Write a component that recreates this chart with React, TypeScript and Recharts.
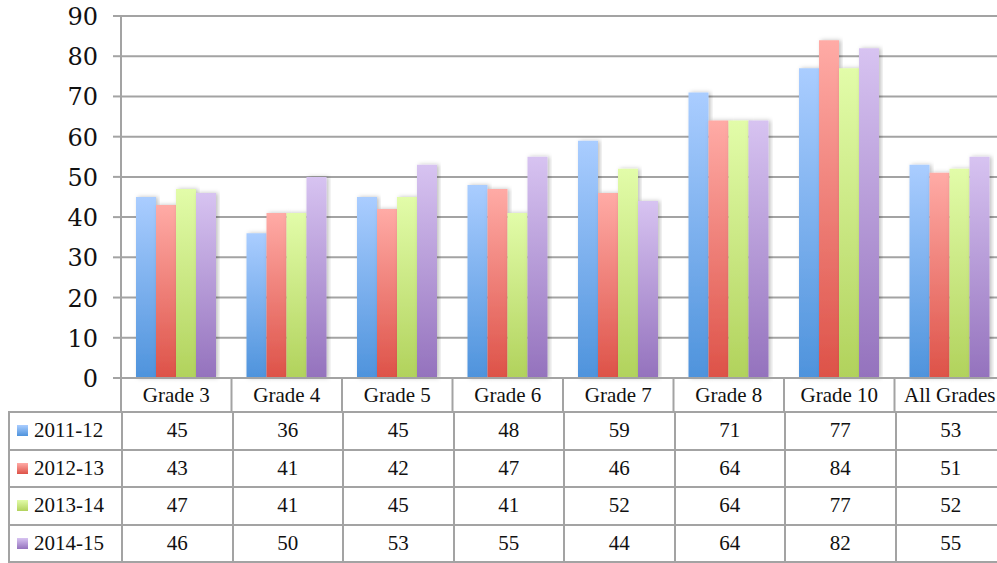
import React from "react";
import { BarChart, Bar, XAxis, YAxis, CartesianGrid } from "recharts";

const categories = ["Grade 3", "Grade 4", "Grade 5", "Grade 6", "Grade 7", "Grade 8", "Grade 10", "All Grades"];
const series2011 = [45, 36, 45, 48, 59, 71, 77, 53];
const series2012 = [43, 41, 42, 47, 46, 64, 84, 51];
const series2013 = [47, 41, 45, 41, 52, 64, 77, 52];
const series2014 = [46, 50, 53, 55, 44, 64, 82, 55];
const yTicks = [0, 10, 20, 30, 40, 50, 60, 70, 80, 90];

const seriesList = [
  { key: "s2011", name: "2011-12", values: series2011, top: "#aacdff", bottom: "#4e93dc" },
  { key: "s2012", name: "2012-13", values: series2012, top: "#ffaba6", bottom: "#dd5248" },
  { key: "s2013", name: "2013-14", values: series2013, top: "#e2fca9", bottom: "#b1d25c" },
  { key: "s2014", name: "2014-15", values: series2014, top: "#d7c3f1", bottom: "#9472bd" },
];

const data = categories.map((c, i) => {
  const row: any = { name: c };
  seriesList.forEach((s) => (row[s.key] = s.values[i]));
  return row;
});

const FONT = "'Liberation Serif', 'DejaVu Serif', serif";
const AXIS_FONT = "'DejaVu Serif', serif";
const GRID = "#a3a3a3";
const CHART_W = 997;
const Y_AXIS_W = 113;
const BAND = (CHART_W - Y_AXIS_W) / categories.length;
const HEADER_H = 34;
const TOP = 16;
const PLOT_H = 362;

const CategoryTick = (props: any) => {
  const { x, y, payload } = props;
  return (
    <g>
      <line x1={x - BAND / 2} x2={x - BAND / 2} y1={y} y2={y + HEADER_H} stroke={GRID} strokeWidth={2} />
      <text x={x} y={y + 24} textAnchor="middle" style={{ fontFamily: FONT, fontSize: 21 }} fill="#111">
        {payload.value}
      </text>
    </g>
  );
};

const ValueTick = (props: any) => {
  const { x, y, payload } = props;
  return (
    <text x={x + 1} y={y} dy={9} textAnchor="end" style={{ fontFamily: AXIS_FONT, fontSize: 24 }} fill="#111">
      {payload.value}
    </text>
  );
};

export default function App() {
  return (
    <div style={{ position: "absolute", top: 0, left: 8, width: 989, height: 563, overflow: "hidden", background: "#fff", fontFamily: FONT }}>
      <BarChart
        width={CHART_W}
        height={TOP + PLOT_H + HEADER_H}
        data={data}
        margin={{ top: TOP, right: 0, bottom: 0, left: 0 }}
        barCategoryGap={15}
        barGap={0}
      >
        <defs>
          {seriesList.map((s) => (
            <linearGradient key={s.key} id={`grad-${s.key}`} x1="0" y1="0" x2="0" y2="1">
              <stop offset="0%" stopColor={s.top} />
              <stop offset="100%" stopColor={s.bottom} />
            </linearGradient>
          ))}
          <filter id="barShadow" x="-20%" y="-5%" width="140%" height="110%">
            <feDropShadow dx="2" dy="0" stdDeviation="2" floodColor="#000" floodOpacity="0.25" />
          </filter>
        </defs>
        <CartesianGrid vertical={false} stroke={GRID} strokeWidth={2} />
        <XAxis
          dataKey="name"
          tickSize={0}
          tickMargin={0}
          height={HEADER_H}
          axisLine={{ stroke: GRID, strokeWidth: 2 }}
          tick={<CategoryTick />}
          interval={0}
        />
        <YAxis
          width={Y_AXIS_W}
          domain={[0, 90]}
          ticks={yTicks}
          interval={0}
          tickSize={8}
          tickMargin={16}
          axisLine={{ stroke: GRID, strokeWidth: 2 }}
          tickLine={{ stroke: GRID, strokeWidth: 2 }}
          tick={<ValueTick />}
        />
        {seriesList.map((s) => (
          <Bar
            key={s.key}
            dataKey={s.key}
            name={s.name}
            fill={`url(#grad-${s.key})`}
            filter="url(#barShadow)"
            isAnimationActive={false}
          />
        ))}
      </BarChart>
      <table
        style={{
          position: "absolute",
          top: TOP + PLOT_H + HEADER_H - 1,
          left: 0,
          width: CHART_W,
          borderCollapse: "collapse",
          tableLayout: "fixed",
          fontFamily: FONT,
          fontSize: 21,
          color: "#111",
        }}
      >
        <colgroup>
          <col style={{ width: Y_AXIS_W }} />
          {categories.map((c) => (
            <col key={c} style={{ width: BAND }} />
          ))}
        </colgroup>
        <tbody>
          {seriesList.map((s) => (
            <tr key={s.key} style={{ height: 37.5 }}>
              <td style={{ border: `2px solid ${GRID}`, padding: "0 0 0 7px", whiteSpace: "nowrap" }}>
                <span
                  style={{
                    display: "inline-block",
                    width: 11,
                    height: 11,
                    marginRight: 6,
                    background: `linear-gradient(${s.top}, ${s.bottom})`,
                    verticalAlign: "1px",
                  }}
                />
                {s.name}
              </td>
              {s.values.map((v, i) => (
                <td key={i} style={{ border: `2px solid ${GRID}`, textAlign: "center", padding: 0 }}>
                  {v}
                </td>
              ))}
            </tr>
          ))}
        </tbody>
      </table>
    </div>
  );
}
